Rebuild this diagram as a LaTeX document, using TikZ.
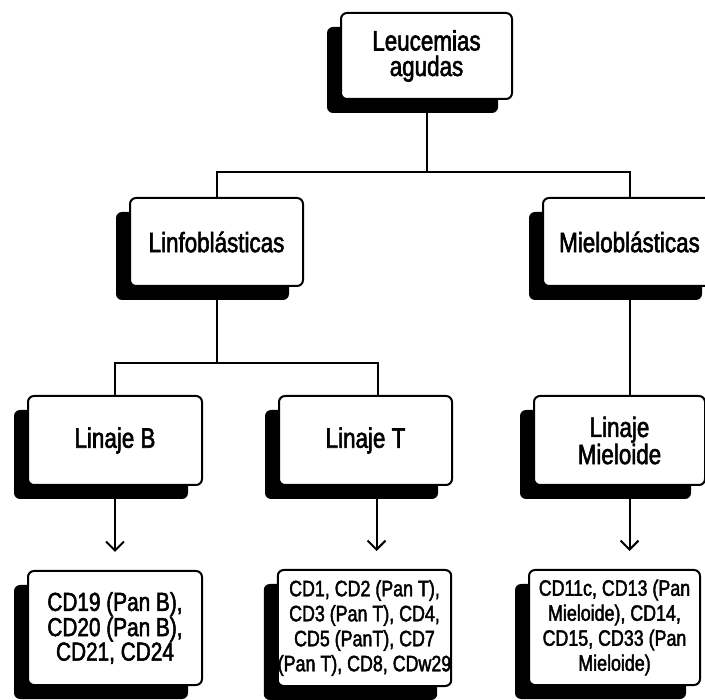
\documentclass[tikz,border=0pt]{standalone}
\usepackage{fontspec}
\setmainfont{Liberation Sans}[FakeStretch=0.8,FakeBold=2]
\usetikzlibrary{shadows,arrows.meta}
\begin{document}
\begin{tikzpicture}[x=1pt,y=-1pt,
		caja/.style={draw,line width=2pt,rounded corners=6pt,fill=white,inner sep=0pt,align=center,
			drop shadow={shadow xshift=-14pt,shadow yshift=-14pt,opacity=1,fill=black}},
		grande/.style={font=\fontsize{28}{25.5}\selectfont},
		media/.style={font=\fontsize{26}{22}\selectfont},
		chica/.style={font=\fontsize{22.3}{25}\selectfont},
		linea/.style={line width=2pt},
		flecha/.style={line width=2pt,shorten >=18pt,-{Straight Barb[length=9pt,width=18pt]}}]
	\useasboundingbox (0,0) rectangle (705,700);
	
	\node[caja,grande,minimum width=171pt,minimum height=86pt] (leu) at (426.5,56) {Leucemias\\agudas};
	
	\node[caja,grande,minimum width=173pt,minimum height=88pt] (lf) at (216.5,242) {Linfoblásticas};
	\node[caja,grande,minimum width=173pt,minimum height=88pt] (mi) at (629.5,242) {Mieloblásticas};
	
	\node[caja,grande,minimum width=174pt,minimum height=89pt] (lb) at (115,440.5) {Linaje B};
	\node[caja,grande,minimum width=173pt,minimum height=89pt] (lt) at (365.5,440.5) {Linaje T};
	\node[caja,grande,minimum width=171pt,minimum height=89pt] (lm) at (619.5,440.5) {Linaje\\Mieloide};
	
	\node[caja,media,minimum width=174pt,minimum height=114pt] (cdb) at (115,628) {CD19 (Pan B),\\CD20 (Pan B),\\CD21, CD24};
	\node[caja,chica,minimum width=173pt,minimum height=116pt] (cdt) at (364.5,628) {CD1, CD2 (Pan T),\\CD3 (Pan T), CD4,\\CD5 (PanT), CD7\\(Pan T), CD8, CDw29};
	\node[caja,chica,minimum width=171pt,minimum height=115pt] (cdm) at (614.5,627.5) {CD11c, CD13 (Pan\\Mieloide), CD14,\\CD15, CD33 (Pan\\Mieloide)};
	
	\path (leu.south) ++(0,72) coordinate (r1);
	\draw[linea] (leu.south) -- (r1) -| (lf.north);
	\draw[linea] (r1) -| (mi.north);
	
	\path (lf.south) ++(0,76) coordinate (r2);
	\coordinate (t1) at ([xshift=12pt]lt.north);
	\draw[linea] (lf.south) -- (r2) -| (lb.north);
	\draw[linea] (r2) -| (t1);
	\draw[linea] (mi.south) -- (mi.south |- lm.north);
	
	\coordinate (t2) at ([xshift=11pt]lt.south);
	\draw[flecha] (lb.south) -- (cdb.north);
	\draw[flecha] (t2) -- (t2 |- cdt.north);
	\draw[flecha] (mi.south |- lm.south) -- (mi.south |- cdm.north);
\end{tikzpicture}
\end{document}
